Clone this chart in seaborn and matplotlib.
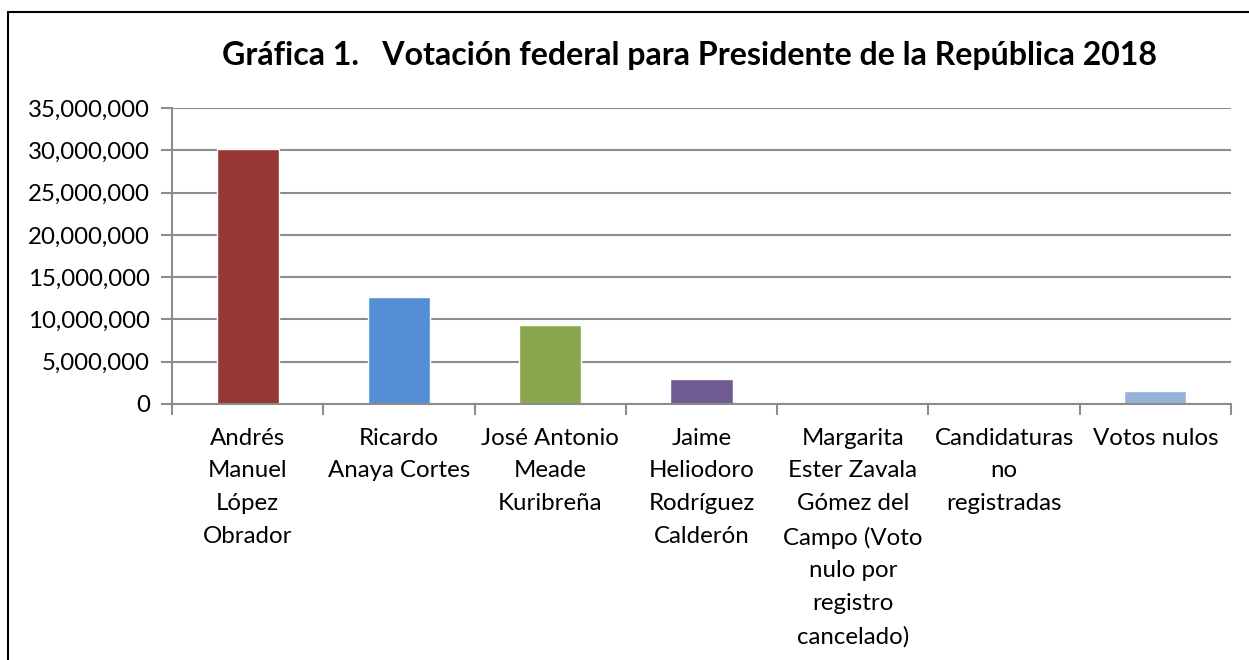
import matplotlib
matplotlib.use("Agg")
import matplotlib.pyplot as plt
import matplotlib.ticker as mticker
from matplotlib.lines import Line2D
import seaborn as sns
import pandas as pd

categories = [
    "Andrés Manuel López Obrador",
    "Ricardo Anaya Cortes",
    "José Antonio Meade Kuribreña",
    "Jaime Heliodoro Rodríguez Calderón",
    "Margarita Ester Zavala Gómez del Campo (Voto nulo por registro cancelado)",
    "Candidaturas no registradas",
    "Votos nulos",
]
tick_labels = [
    "Andrés\nManuel\nLópez\nObrador",
    "Ricardo\nAnaya Cortes",
    "José Antonio\nMeade\nKuribreña",
    "Jaime\nHeliodoro\nRodríguez\nCalderón",
    "Margarita\nEster Zavala\nGómez del\nCampo (Voto\nnulo por\nregistro\ncancelado)",
    "Candidaturas\nno\nregistradas",
    "Votos nulos",
]
votes = [30113483, 12610120, 9289853, 2961732, 32743, 31982, 1571114]
colors = ["#953735", "#558ED5", "#8AA64E", "#705C93", "#3F8C9A", "#B5835F", "#95B3D7"]
yticks = [0, 5000000, 10000000, 15000000, 20000000, 25000000, 30000000, 35000000]
title = "Gráfica 1.   Votación federal para Presidente de la República 2018"

sns.set_theme(style="white")
plt.rcParams["font.family"] = ["Lato", "DejaVu Sans"]

df = pd.DataFrame({"cat": categories, "votes": votes})

fig = plt.figure(figsize=(12.49, 6.60), dpi=100)
ax = fig.add_axes([172 / 1249, 1 - 404 / 660, (1231 - 172) / 1249, (404 - 108) / 660])

sns.barplot(data=df, x="cat", y="votes", hue="cat", palette=colors, order=categories,
            hue_order=categories, width=0.41, legend=False, ax=ax, saturation=1)

ax.set_ylim(0, 35000000)
ax.set_xlim(-0.5, len(categories) - 0.5)
ax.set_yticks(yticks)
ax.yaxis.set_major_formatter(mticker.FuncFormatter(lambda v, p: f"{int(v):,}"))
ax.set_xlabel("")
ax.set_ylabel("")
ax.grid(axis="y", color="#8c8c8c", linewidth=1.5)
ax.set_axisbelow(True)
for s in ["top", "right"]:
    ax.spines[s].set_visible(False)
for s in ["left", "bottom"]:
    ax.spines[s].set_color("#8c8c8c")
    ax.spines[s].set_linewidth(1.5)

ax.set_xticks([i + 0.5 for i in range(-1, len(categories))], minor=False)
ax.set_xticklabels([""] * (len(categories) + 1))
ax.set_xticks(range(len(categories)), minor=True)
ax.set_xticklabels(tick_labels, minor=True, fontsize=17.3, color="black", linespacing=1.69, va="top")
ax.tick_params(axis="x", which="major", direction="out", length=8, width=1.5, color="#8c8c8c", bottom=True)
ax.tick_params(axis="x", which="minor", length=0, pad=17)
ax.tick_params(axis="y", direction="out", length=8, width=1.5, color="#8c8c8c", left=True,
               labelsize=17.3, labelcolor="black", pad=8)

fig.text(689 / 1249, 1 - 56 / 660, title, ha="center", va="center", fontsize=23.1,
         fontweight="bold", color="black")

fig.add_artist(Line2D([8 / 1249, 8 / 1249], [0, 1 - 12 / 660], transform=fig.transFigure,
                      color="black", linewidth=1.5))
fig.add_artist(Line2D([8 / 1249, 1], [1 - 12 / 660, 1 - 12 / 660], transform=fig.transFigure,
                      color="black", linewidth=1.5))

fig.savefig("out.png", dpi=100)
